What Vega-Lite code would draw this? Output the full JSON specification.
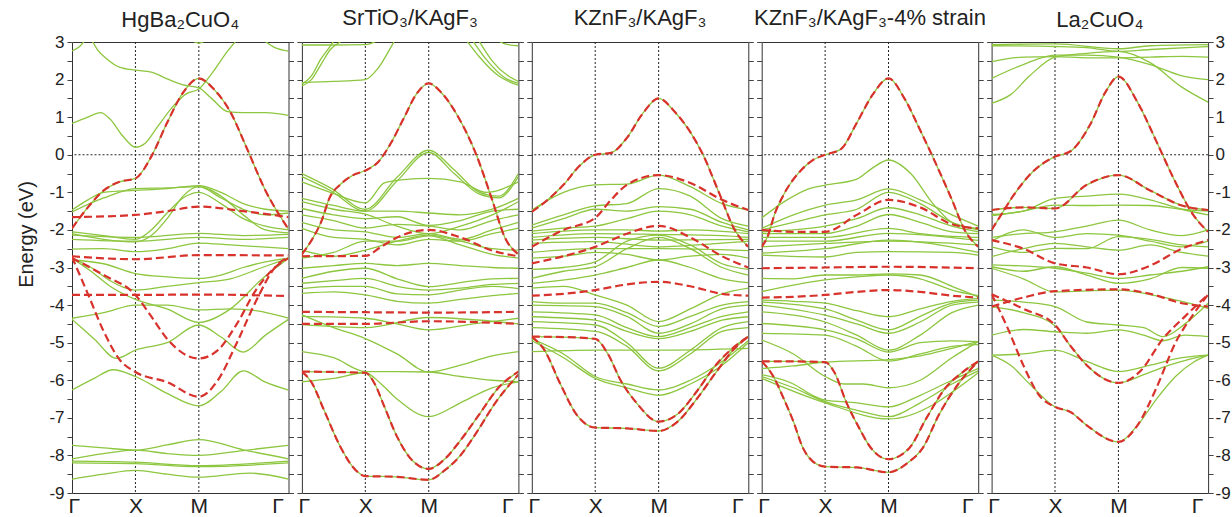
{
"$schema":"https://vega.github.io/schema/vega-lite/v6.json",
"padding":{"left":16,"top":6,"right":5,"bottom":0},
"bounds":"flush",
"spacing":12.9,
"config":{"font":"Liberation Sans","view":{"stroke":"#333","strokeWidth":1},
"axis":{"grid":false,"domain":false,"labelFont":"Liberation Sans","titleFont":"Liberation Sans","labelColor":"#222","titleColor":"#222","tickColor":"#444","titleFontWeight":"normal","labelOverlap":false},
"title":{"font":"Liberation Sans","fontSize":22,"fontWeight":"normal","color":"#222","offset":12}},
"datasets":{
"g":[
{"p":1,"b":1,"k":0,"e":-1.96},{"p":1,"b":1,"k":0.25,"e":-1.4},{"p":1,"b":1,"k":0.5,"e":-0.95},{"p":1,"b":1,"k":0.75,"e":-0.72},{"p":1,"b":1,"k":1,"e":-0.63},{"p":1,"b":1,"k":1.25,"e":-0.05},{"p":1,"b":1,"k":1.5,"e":0.85},{"p":1,"b":1,"k":1.75,"e":1.65},{"p":1,"b":1,"k":2,"e":2.03},{"p":1,"b":1,"k":2.25,"e":1.72},{"p":1,"b":1,"k":2.5,"e":1.13},{"p":1,"b":1,"k":2.75,"e":0.2},{"p":1,"b":1,"k":3.05,"e":-0.95},{"p":1,"b":1,"k":3.414,"e":-1.98},
{"p":1,"b":2,"k":0,"e":2.76},{"p":1,"b":2,"k":0.12,"e":2.88},{"p":1,"b":2,"k":0.25,"e":3.15},
{"p":1,"b":3,"k":0.28,"e":3.15},{"p":1,"b":3,"k":0.4,"e":2.8},{"p":1,"b":3,"k":0.55,"e":2.55},{"p":1,"b":3,"k":0.75,"e":2.33},{"p":1,"b":3,"k":1,"e":2.25},{"p":1,"b":3,"k":1.25,"e":2.2},{"p":1,"b":3,"k":1.5,"e":2.02},{"p":1,"b":3,"k":1.75,"e":1.86},{"p":1,"b":3,"k":2,"e":1.78},{"p":1,"b":3,"k":2.2,"e":1.5},{"p":1,"b":3,"k":2.45,"e":1.15},{"p":1,"b":3,"k":2.7,"e":1.12},{"p":1,"b":3,"k":3.05,"e":1.12},{"p":1,"b":3,"k":3.414,"e":1.05},
{"p":1,"b":4,"k":0,"e":0.83},{"p":1,"b":4,"k":0.25,"e":1.0},{"p":1,"b":4,"k":0.45,"e":1.12},{"p":1,"b":4,"k":0.6,"e":0.95},{"p":1,"b":4,"k":0.8,"e":0.5},{"p":1,"b":4,"k":1,"e":0.2},{"p":1,"b":4,"k":1.15,"e":0.3},{"p":1,"b":4,"k":1.35,"e":0.75},{"p":1,"b":4,"k":1.6,"e":1.3},{"p":1,"b":4,"k":1.8,"e":1.62},{"p":1,"b":4,"k":2,"e":1.75},{"p":1,"b":4,"k":2.2,"e":2.15},{"p":1,"b":4,"k":2.45,"e":2.75},{"p":1,"b":4,"k":2.65,"e":3.15},
{"p":1,"b":5,"k":2.95,"e":3.15},{"p":1,"b":5,"k":3.2,"e":2.85},{"p":1,"b":5,"k":3.414,"e":2.76},
{"p":1,"b":6,"k":1.8,"e":3.15},{"p":1,"b":6,"k":2,"e":2.97},{"p":1,"b":6,"k":2.2,"e":3.15},
{"p":1,"b":7,"k":0,"e":-1.47},{"p":1,"b":7,"k":0.25,"e":-1.2},{"p":1,"b":7,"k":0.5,"e":-1.0},{"p":1,"b":7,"k":1,"e":-0.95},{"p":1,"b":7,"k":1.5,"e":-0.9},{"p":1,"b":7,"k":2,"e":-0.82},{"p":1,"b":7,"k":2.35,"e":-1.0},{"p":1,"b":7,"k":2.7,"e":-1.3},{"p":1,"b":7,"k":3.05,"e":-1.45},{"p":1,"b":7,"k":3.414,"e":-1.5},
{"p":1,"b":8,"k":0,"e":-1.52},{"p":1,"b":8,"k":0.5,"e":-1.15},{"p":1,"b":8,"k":1,"e":-0.9},{"p":1,"b":8,"k":1.5,"e":-0.88},{"p":1,"b":8,"k":2,"e":-0.85},{"p":1,"b":8,"k":2.35,"e":-1.15},{"p":1,"b":8,"k":2.7,"e":-1.45},{"p":1,"b":8,"k":3.05,"e":-1.6},{"p":1,"b":8,"k":3.414,"e":-1.55},
{"p":1,"b":9,"k":0,"e":-2.05},{"p":1,"b":9,"k":0.5,"e":-2.15},{"p":1,"b":9,"k":1,"e":-2.25},{"p":1,"b":9,"k":1.25,"e":-2.0},{"p":1,"b":9,"k":1.5,"e":-1.55},{"p":1,"b":9,"k":1.75,"e":-1.15},{"p":1,"b":9,"k":2,"e":-1.0},{"p":1,"b":9,"k":2.35,"e":-1.3},{"p":1,"b":9,"k":2.7,"e":-1.7},{"p":1,"b":9,"k":3.05,"e":-1.9},{"p":1,"b":9,"k":3.414,"e":-2.0},
{"p":1,"b":10,"k":0,"e":-2.1},{"p":1,"b":10,"k":0.5,"e":-2.25},{"p":1,"b":10,"k":1,"e":-2.32},{"p":1,"b":10,"k":1.25,"e":-2.15},{"p":1,"b":10,"k":1.5,"e":-1.7},{"p":1,"b":10,"k":1.75,"e":-1.1},{"p":1,"b":10,"k":2,"e":-0.85},{"p":1,"b":10,"k":2.35,"e":-1.1},{"p":1,"b":10,"k":2.7,"e":-1.6},{"p":1,"b":10,"k":3.05,"e":-2.0},{"p":1,"b":10,"k":3.414,"e":-2.08},
{"p":1,"b":11,"k":0,"e":-2.14},{"p":1,"b":11,"k":1,"e":-2.2},{"p":1,"b":11,"k":2,"e":-2.09},{"p":1,"b":11,"k":2.7,"e":-2.15},{"p":1,"b":11,"k":3.414,"e":-2.12},
{"p":1,"b":12,"k":0,"e":-2.25},{"p":1,"b":12,"k":1,"e":-2.3},{"p":1,"b":12,"k":2,"e":-2.2},{"p":1,"b":12,"k":2.7,"e":-2.25},{"p":1,"b":12,"k":3.414,"e":-2.2},
{"p":1,"b":13,"k":0,"e":-2.51},{"p":1,"b":13,"k":0.5,"e":-2.5},{"p":1,"b":13,"k":1,"e":-2.58},{"p":1,"b":13,"k":1.5,"e":-2.5},{"p":1,"b":13,"k":2,"e":-2.35},{"p":1,"b":13,"k":2.5,"e":-2.4},{"p":1,"b":13,"k":3.414,"e":-2.5},
{"p":1,"b":14,"k":0,"e":-2.8},{"p":1,"b":14,"k":0.5,"e":-2.9},{"p":1,"b":14,"k":1,"e":-3.16},{"p":1,"b":14,"k":1.5,"e":-3.25},{"p":1,"b":14,"k":2,"e":-3.29},{"p":1,"b":14,"k":2.35,"e":-3.2},{"p":1,"b":14,"k":2.7,"e":-3.0},{"p":1,"b":14,"k":3.05,"e":-2.85},{"p":1,"b":14,"k":3.414,"e":-2.75},
{"p":1,"b":15,"k":0,"e":-2.75},{"p":1,"b":15,"k":0.3,"e":-3.0},{"p":1,"b":15,"k":0.6,"e":-3.35},{"p":1,"b":15,"k":1,"e":-3.6},{"p":1,"b":15,"k":1.5,"e":-3.5},{"p":1,"b":15,"k":2,"e":-3.4},{"p":1,"b":15,"k":2.5,"e":-3.3},{"p":1,"b":15,"k":3,"e":-3.0},{"p":1,"b":15,"k":3.414,"e":-2.75},
{"p":1,"b":16,"k":0,"e":-2.75},{"p":1,"b":16,"k":0.3,"e":-3.1},{"p":1,"b":16,"k":0.6,"e":-3.5},{"p":1,"b":16,"k":1,"e":-3.85},{"p":1,"b":16,"k":1.5,"e":-4.1},{"p":1,"b":16,"k":2,"e":-4.46},{"p":1,"b":16,"k":2.5,"e":-4.1},{"p":1,"b":16,"k":3,"e":-3.3},{"p":1,"b":16,"k":3.414,"e":-2.75},
{"p":1,"b":17,"k":0,"e":-4.35},{"p":1,"b":17,"k":0.5,"e":-4.2},{"p":1,"b":17,"k":1,"e":-4.0},{"p":1,"b":17,"k":1.5,"e":-4.0},{"p":1,"b":17,"k":2,"e":-4.13},{"p":1,"b":17,"k":2.5,"e":-4.1},{"p":1,"b":17,"k":2.9,"e":-4.15},{"p":1,"b":17,"k":3.414,"e":-4.35},
{"p":1,"b":18,"k":0,"e":-4.38},{"p":1,"b":18,"k":0.35,"e":-4.9},{"p":1,"b":18,"k":0.7,"e":-5.42},{"p":1,"b":18,"k":1,"e":-5.2},{"p":1,"b":18,"k":1.5,"e":-5.0},{"p":1,"b":18,"k":2,"e":-4.53},{"p":1,"b":18,"k":2.35,"e":-4.85},{"p":1,"b":18,"k":2.7,"e":-5.25},{"p":1,"b":18,"k":3.05,"e":-4.8},{"p":1,"b":18,"k":3.414,"e":-4.38},
{"p":1,"b":19,"k":0,"e":-6.26},{"p":1,"b":19,"k":0.35,"e":-5.95},{"p":1,"b":19,"k":0.65,"e":-5.72},{"p":1,"b":19,"k":1,"e":-5.9},{"p":1,"b":19,"k":1.5,"e":-6.35},{"p":1,"b":19,"k":2,"e":-6.68},{"p":1,"b":19,"k":2.35,"e":-6.3},{"p":1,"b":19,"k":2.7,"e":-5.75},{"p":1,"b":19,"k":3.05,"e":-6.05},{"p":1,"b":19,"k":3.414,"e":-6.26},
{"p":1,"b":20,"k":0,"e":-7.73},{"p":1,"b":20,"k":0.5,"e":-7.8},{"p":1,"b":20,"k":1,"e":-7.86},{"p":1,"b":20,"k":1.5,"e":-7.72},{"p":1,"b":20,"k":2,"e":-7.58},{"p":1,"b":20,"k":2.7,"e":-7.85},{"p":1,"b":20,"k":3.414,"e":-8.09},
{"p":1,"b":21,"k":0,"e":-8.09},{"p":1,"b":21,"k":0.5,"e":-7.95},{"p":1,"b":21,"k":1,"e":-7.86},{"p":1,"b":21,"k":1.5,"e":-7.95},{"p":1,"b":21,"k":2,"e":-8.0},{"p":1,"b":21,"k":2.7,"e":-7.87},{"p":1,"b":21,"k":3.414,"e":-7.73},
{"p":1,"b":22,"k":0,"e":-8.15},{"p":1,"b":22,"k":1,"e":-8.18},{"p":1,"b":22,"k":2,"e":-8.27},{"p":1,"b":22,"k":3.414,"e":-8.15},
{"p":1,"b":23,"k":0,"e":-8.2},{"p":1,"b":23,"k":1,"e":-8.22},{"p":1,"b":23,"k":2,"e":-8.3},{"p":1,"b":23,"k":3.414,"e":-8.2},
{"p":1,"b":24,"k":0,"e":-8.63},{"p":1,"b":24,"k":0.5,"e":-8.5},{"p":1,"b":24,"k":1,"e":-8.4},{"p":1,"b":24,"k":1.5,"e":-8.5},{"p":1,"b":24,"k":2,"e":-8.58},{"p":1,"b":24,"k":2.8,"e":-8.47},{"p":1,"b":24,"k":3.414,"e":-8.63},

{"p":2,"b":1,"k":0,"e":-2.65},{"p":2,"b":1,"k":0.18,"e":-2.2},{"p":2,"b":1,"k":0.31,"e":-1.76},{"p":2,"b":1,"k":0.44,"e":-1.13},{"p":2,"b":1,"k":0.6,"e":-0.8},{"p":2,"b":1,"k":0.8,"e":-0.55},{"p":2,"b":1,"k":1,"e":-0.42},{"p":2,"b":1,"k":1.2,"e":-0.2},{"p":2,"b":1,"k":1.4,"e":0.3},{"p":2,"b":1,"k":1.6,"e":0.95},{"p":2,"b":1,"k":1.8,"e":1.6},{"p":2,"b":1,"k":2,"e":1.9},{"p":2,"b":1,"k":2.2,"e":1.65},{"p":2,"b":1,"k":2.45,"e":1.05},{"p":2,"b":1,"k":2.75,"e":0.0},{"p":2,"b":1,"k":3.0,"e":-1.2},{"p":2,"b":1,"k":3.2,"e":-2.2},{"p":2,"b":1,"k":3.414,"e":-2.65},
{"p":2,"b":2,"k":0,"e":1.88},{"p":2,"b":2,"k":0.15,"e":2.1},{"p":2,"b":2,"k":0.3,"e":2.55},{"p":2,"b":2,"k":0.45,"e":2.9},{"p":2,"b":2,"k":0.55,"e":3.15},
{"p":2,"b":3,"k":0,"e":1.83},{"p":2,"b":3,"k":0.15,"e":2.0},{"p":2,"b":3,"k":0.3,"e":2.4},{"p":2,"b":3,"k":0.45,"e":2.8},{"p":2,"b":3,"k":0.6,"e":3.0},{"p":2,"b":3,"k":0.7,"e":3.15},
{"p":2,"b":4,"k":0,"e":1.92},{"p":2,"b":4,"k":0.5,"e":1.95},{"p":2,"b":4,"k":1,"e":2.0},{"p":2,"b":4,"k":1.2,"e":2.3},{"p":2,"b":4,"k":1.4,"e":2.85},{"p":2,"b":4,"k":1.5,"e":3.15},
{"p":2,"b":5,"k":0,"e":2.92},{"p":2,"b":5,"k":0.5,"e":2.92},{"p":2,"b":5,"k":1,"e":2.93},{"p":2,"b":5,"k":1.3,"e":3.15},
{"p":2,"b":6,"k":2.55,"e":3.15},{"p":2,"b":6,"k":2.8,"e":2.6},{"p":2,"b":6,"k":3.1,"e":2.1},{"p":2,"b":6,"k":3.414,"e":1.85},
{"p":2,"b":7,"k":2.65,"e":3.15},{"p":2,"b":7,"k":2.9,"e":2.55},{"p":2,"b":7,"k":3.2,"e":2.05},{"p":2,"b":7,"k":3.414,"e":1.9},
{"p":2,"b":8,"k":2.75,"e":3.15},{"p":2,"b":8,"k":3.0,"e":2.5},{"p":2,"b":8,"k":3.25,"e":2.1},{"p":2,"b":8,"k":3.414,"e":1.95},
{"p":2,"b":9,"k":3.0,"e":3.15},{"p":2,"b":9,"k":3.2,"e":2.95},{"p":2,"b":9,"k":3.414,"e":2.9},
{"p":2,"b":10,"k":0,"e":-0.5},{"p":2,"b":10,"k":0.45,"e":-0.88},{"p":2,"b":10,"k":1,"e":-1.45},{"p":2,"b":10,"k":1.5,"e":-0.6},{"p":2,"b":10,"k":2,"e":0.12},{"p":2,"b":10,"k":2.4,"e":-0.4},{"p":2,"b":10,"k":2.8,"e":-1.0},{"p":2,"b":10,"k":3.1,"e":-1.1},{"p":2,"b":10,"k":3.414,"e":-0.5},
{"p":2,"b":11,"k":0,"e":-0.58},{"p":2,"b":11,"k":0.45,"e":-0.95},{"p":2,"b":11,"k":1,"e":-1.5},{"p":2,"b":11,"k":1.5,"e":-0.7},{"p":2,"b":11,"k":2,"e":0.06},{"p":2,"b":11,"k":2.4,"e":-0.5},{"p":2,"b":11,"k":2.8,"e":-1.05},{"p":2,"b":11,"k":3.1,"e":-1.15},{"p":2,"b":11,"k":3.414,"e":-0.58},
{"p":2,"b":12,"k":0,"e":-0.72},{"p":2,"b":12,"k":0.45,"e":-1.0},{"p":2,"b":12,"k":1,"e":-1.28},{"p":2,"b":12,"k":1.3,"e":-0.75},{"p":2,"b":12,"k":1.6,"e":-0.66},{"p":2,"b":12,"k":2,"e":-0.63},{"p":2,"b":12,"k":2.5,"e":-0.72},{"p":2,"b":12,"k":2.9,"e":-1.0},{"p":2,"b":12,"k":3.414,"e":-0.72},
{"p":2,"b":13,"k":0,"e":-1.16},{"p":2,"b":13,"k":0.5,"e":-1.35},{"p":2,"b":13,"k":1,"e":-1.5},{"p":2,"b":13,"k":1.5,"e":-1.5},{"p":2,"b":13,"k":2,"e":-1.55},{"p":2,"b":13,"k":2.5,"e":-1.6},{"p":2,"b":13,"k":3,"e":-1.45},{"p":2,"b":13,"k":3.414,"e":-1.16},
{"p":2,"b":14,"k":0,"e":-1.25},{"p":2,"b":14,"k":0.5,"e":-1.45},{"p":2,"b":14,"k":1,"e":-1.58},{"p":2,"b":14,"k":1.5,"e":-1.9},{"p":2,"b":14,"k":2,"e":-2.1},{"p":2,"b":14,"k":2.5,"e":-1.9},{"p":2,"b":14,"k":3,"e":-1.6},{"p":2,"b":14,"k":3.414,"e":-1.25},
{"p":2,"b":15,"k":0,"e":-1.43},{"p":2,"b":15,"k":0.5,"e":-1.6},{"p":2,"b":15,"k":1,"e":-1.7},{"p":2,"b":15,"k":1.5,"e":-1.65},{"p":2,"b":15,"k":2,"e":-1.88},{"p":2,"b":15,"k":2.5,"e":-1.75},{"p":2,"b":15,"k":3,"e":-1.5},{"p":2,"b":15,"k":3.414,"e":-1.45},
{"p":2,"b":16,"k":0,"e":-1.6},{"p":2,"b":16,"k":0.5,"e":-1.75},{"p":2,"b":16,"k":1,"e":-1.95},{"p":2,"b":16,"k":1.5,"e":-1.85},{"p":2,"b":16,"k":2,"e":-1.9},{"p":2,"b":16,"k":2.5,"e":-2.0},{"p":2,"b":16,"k":3,"e":-1.75},{"p":2,"b":16,"k":3.414,"e":-1.6},
{"p":2,"b":17,"k":0,"e":-1.8},{"p":2,"b":17,"k":0.5,"e":-2.0},{"p":2,"b":17,"k":1,"e":-2.05},{"p":2,"b":17,"k":1.5,"e":-2.2},{"p":2,"b":17,"k":2,"e":-2.1},{"p":2,"b":17,"k":2.5,"e":-2.25},{"p":2,"b":17,"k":3,"e":-2.0},{"p":2,"b":17,"k":3.414,"e":-1.8},
{"p":2,"b":18,"k":0,"e":-1.96},{"p":2,"b":18,"k":0.5,"e":-2.2},{"p":2,"b":18,"k":1,"e":-2.25},{"p":2,"b":18,"k":1.5,"e":-2.4},{"p":2,"b":18,"k":2,"e":-2.25},{"p":2,"b":18,"k":2.5,"e":-2.3},{"p":2,"b":18,"k":3,"e":-2.1},{"p":2,"b":18,"k":3.414,"e":-1.95},
{"p":2,"b":19,"k":0,"e":-2.54},{"p":2,"b":19,"k":0.5,"e":-2.7},{"p":2,"b":19,"k":1,"e":-2.54},{"p":2,"b":19,"k":1.5,"e":-2.3},{"p":2,"b":19,"k":2,"e":-2.14},{"p":2,"b":19,"k":2.5,"e":-2.3},{"p":2,"b":19,"k":3,"e":-2.5},{"p":2,"b":19,"k":3.414,"e":-2.54},
{"p":2,"b":20,"k":0,"e":-2.75},{"p":2,"b":20,"k":0.5,"e":-2.6},{"p":2,"b":20,"k":1,"e":-2.3},{"p":2,"b":20,"k":1.5,"e":-2.3},{"p":2,"b":20,"k":2,"e":-2.16},{"p":2,"b":20,"k":2.5,"e":-2.4},{"p":2,"b":20,"k":3,"e":-2.65},{"p":2,"b":20,"k":3.414,"e":-2.75},
{"p":2,"b":21,"k":0,"e":-3.02},{"p":2,"b":21,"k":0.5,"e":-2.95},{"p":2,"b":21,"k":1,"e":-2.89},{"p":2,"b":21,"k":1.5,"e":-2.95},{"p":2,"b":21,"k":2,"e":-2.89},{"p":2,"b":21,"k":2.5,"e":-2.95},{"p":2,"b":21,"k":3,"e":-3.0},{"p":2,"b":21,"k":3.414,"e":-3.02},
{"p":2,"b":22,"k":0,"e":-3.29},{"p":2,"b":22,"k":0.5,"e":-3.1},{"p":2,"b":22,"k":1,"e":-3.02},{"p":2,"b":22,"k":1.5,"e":-3.3},{"p":2,"b":22,"k":2,"e":-3.51},{"p":2,"b":22,"k":2.5,"e":-3.4},{"p":2,"b":22,"k":3,"e":-3.3},{"p":2,"b":22,"k":3.414,"e":-3.29},
{"p":2,"b":23,"k":0,"e":-3.42},{"p":2,"b":23,"k":0.5,"e":-3.35},{"p":2,"b":23,"k":1,"e":-3.29},{"p":2,"b":23,"k":1.5,"e":-3.5},{"p":2,"b":23,"k":2,"e":-3.6},{"p":2,"b":23,"k":2.5,"e":-3.55},{"p":2,"b":23,"k":3,"e":-3.45},{"p":2,"b":23,"k":3.414,"e":-3.42},
{"p":2,"b":24,"k":0,"e":-3.56},{"p":2,"b":24,"k":0.5,"e":-3.5},{"p":2,"b":24,"k":1,"e":-3.5},{"p":2,"b":24,"k":1.5,"e":-3.7},{"p":2,"b":24,"k":2,"e":-3.73},{"p":2,"b":24,"k":2.5,"e":-3.6},{"p":2,"b":24,"k":3,"e":-3.5},{"p":2,"b":24,"k":3.414,"e":-3.56},
{"p":2,"b":25,"k":0,"e":-3.69},{"p":2,"b":25,"k":0.5,"e":-3.65},{"p":2,"b":25,"k":1,"e":-3.73},{"p":2,"b":25,"k":1.5,"e":-3.9},{"p":2,"b":25,"k":2,"e":-3.95},{"p":2,"b":25,"k":2.5,"e":-3.85},{"p":2,"b":25,"k":3,"e":-3.75},{"p":2,"b":25,"k":3.414,"e":-3.69},
{"p":2,"b":26,"k":0,"e":-4.3},{"p":2,"b":26,"k":1,"e":-4.35},{"p":2,"b":26,"k":1.5,"e":-4.5},{"p":2,"b":26,"k":2,"e":-4.66},{"p":2,"b":26,"k":2.7,"e":-4.5},{"p":2,"b":26,"k":3.414,"e":-4.35},
{"p":2,"b":27,"k":0,"e":-4.52},{"p":2,"b":27,"k":1,"e":-4.6},{"p":2,"b":27,"k":2,"e":-4.33},{"p":2,"b":27,"k":3.414,"e":-4.5},
{"p":2,"b":28,"k":0,"e":-4.26},{"p":2,"b":28,"k":0.5,"e":-4.6},{"p":2,"b":28,"k":1,"e":-4.89},{"p":2,"b":28,"k":1.5,"e":-5.3},{"p":2,"b":28,"k":2,"e":-5.78},{"p":2,"b":28,"k":2.5,"e":-5.6},{"p":2,"b":28,"k":3,"e":-5.35},{"p":2,"b":28,"k":3.414,"e":-5.24},
{"p":2,"b":29,"k":0,"e":-5.24},{"p":2,"b":29,"k":0.5,"e":-5.4},{"p":2,"b":29,"k":1,"e":-5.77},{"p":2,"b":29,"k":1.5,"e":-5.77},{"p":2,"b":29,"k":2,"e":-5.78},{"p":2,"b":29,"k":2.5,"e":-5.9},{"p":2,"b":29,"k":3,"e":-6.0},{"p":2,"b":29,"k":3.414,"e":-6.04},
{"p":2,"b":30,"k":0,"e":-6.04},{"p":2,"b":30,"k":0.5,"e":-5.95},{"p":2,"b":30,"k":1,"e":-5.8},{"p":2,"b":30,"k":1.25,"e":-6.1},{"p":2,"b":30,"k":1.5,"e":-6.5},{"p":2,"b":30,"k":2,"e":-6.97},{"p":2,"b":30,"k":2.5,"e":-6.6},{"p":2,"b":30,"k":3,"e":-6.2},{"p":2,"b":30,"k":3.414,"e":-6.04},
{"p":2,"b":31,"k":0,"e":-5.77},{"p":2,"b":31,"k":1,"e":-5.8},{"p":2,"b":31,"k":1.15,"e":-6.1},{"p":2,"b":31,"k":1.3,"e":-6.7},{"p":2,"b":31,"k":1.5,"e":-7.5},{"p":2,"b":31,"k":1.75,"e":-8.15},{"p":2,"b":31,"k":2,"e":-8.36},{"p":2,"b":31,"k":2.25,"e":-8.1},{"p":2,"b":31,"k":2.5,"e":-7.6},{"p":2,"b":31,"k":2.8,"e":-6.9},{"p":2,"b":31,"k":3.1,"e":-6.2},{"p":2,"b":31,"k":3.414,"e":-5.77},
{"p":2,"b":32,"k":0,"e":-5.77},{"p":2,"b":32,"k":0.15,"e":-6.05},{"p":2,"b":32,"k":0.35,"e":-6.8},{"p":2,"b":32,"k":0.6,"e":-7.75},{"p":2,"b":32,"k":0.8,"e":-8.3},{"p":2,"b":32,"k":1,"e":-8.55},{"p":2,"b":32,"k":1.5,"e":-8.57},{"p":2,"b":32,"k":2,"e":-8.65},{"p":2,"b":32,"k":2.25,"e":-8.4},{"p":2,"b":32,"k":2.5,"e":-8.0},{"p":2,"b":32,"k":2.75,"e":-7.4},{"p":2,"b":32,"k":3.05,"e":-6.6},{"p":2,"b":32,"k":3.414,"e":-5.85},

{"p":3,"b":1,"k":0,"e":-1.52},{"p":3,"b":1,"k":0.25,"e":-1.2},{"p":3,"b":1,"k":0.5,"e":-0.8},{"p":3,"b":1,"k":0.75,"e":-0.3},{"p":3,"b":1,"k":1,"e":0.0},{"p":3,"b":1,"k":1.25,"e":0.05},{"p":3,"b":1,"k":1.5,"e":0.45},{"p":3,"b":1,"k":1.75,"e":1.1},{"p":3,"b":1,"k":2,"e":1.5},{"p":3,"b":1,"k":2.25,"e":1.15},{"p":3,"b":1,"k":2.5,"e":0.6},{"p":3,"b":1,"k":2.7,"e":0.0},{"p":3,"b":1,"k":2.95,"e":-1.0},{"p":3,"b":1,"k":3.2,"e":-2.0},{"p":3,"b":1,"k":3.414,"e":-2.45},
{"p":3,"b":2,"k":0,"e":-1.47},{"p":3,"b":2,"k":0.5,"e":-1.0},{"p":3,"b":2,"k":1,"e":-0.8},{"p":3,"b":2,"k":1.5,"e":-0.78},{"p":3,"b":2,"k":2,"e":-0.54},{"p":3,"b":2,"k":2.5,"e":-0.85},{"p":3,"b":2,"k":3,"e":-1.3},{"p":3,"b":2,"k":3.414,"e":-1.47},
{"p":3,"b":3,"k":0,"e":-1.87},{"p":3,"b":3,"k":0.5,"e":-1.6},{"p":3,"b":3,"k":1,"e":-1.36},{"p":3,"b":3,"k":1.5,"e":-1.3},{"p":3,"b":3,"k":2,"e":-0.9},{"p":3,"b":3,"k":2.5,"e":-1.1},{"p":3,"b":3,"k":3,"e":-1.7},{"p":3,"b":3,"k":3.414,"e":-1.9},
{"p":3,"b":4,"k":0,"e":-1.95},{"p":3,"b":4,"k":0.5,"e":-1.7},{"p":3,"b":4,"k":1,"e":-1.45},{"p":3,"b":4,"k":1.5,"e":-1.5},{"p":3,"b":4,"k":2,"e":-1.38},{"p":3,"b":4,"k":2.5,"e":-1.45},{"p":3,"b":4,"k":3,"e":-1.8},{"p":3,"b":4,"k":3.414,"e":-2.0},
{"p":3,"b":5,"k":0,"e":-2.03},{"p":3,"b":5,"k":0.5,"e":-1.95},{"p":3,"b":5,"k":1,"e":-1.9},{"p":3,"b":5,"k":1.5,"e":-1.7},{"p":3,"b":5,"k":2,"e":-1.5},{"p":3,"b":5,"k":2.5,"e":-1.6},{"p":3,"b":5,"k":3,"e":-1.9},{"p":3,"b":5,"k":3.414,"e":-2.05},
{"p":3,"b":6,"k":0,"e":-2.1},{"p":3,"b":6,"k":1,"e":-2.0},{"p":3,"b":6,"k":1.5,"e":-2.0},{"p":3,"b":6,"k":2,"e":-2.03},{"p":3,"b":6,"k":2.5,"e":-2.0},{"p":3,"b":6,"k":3.414,"e":-2.1},
{"p":3,"b":7,"k":0,"e":-2.2},{"p":3,"b":7,"k":1,"e":-2.1},{"p":3,"b":7,"k":2,"e":-2.12},{"p":3,"b":7,"k":3,"e":-2.15},{"p":3,"b":7,"k":3.414,"e":-2.2},
{"p":3,"b":8,"k":0,"e":-2.27},{"p":3,"b":8,"k":1,"e":-2.2},{"p":3,"b":8,"k":2,"e":-2.27},{"p":3,"b":8,"k":3.414,"e":-2.25},
{"p":3,"b":9,"k":0,"e":-2.35},{"p":3,"b":9,"k":1,"e":-2.31},{"p":3,"b":9,"k":2,"e":-2.45},{"p":3,"b":9,"k":3,"e":-2.35},{"p":3,"b":9,"k":3.414,"e":-2.3},
{"p":3,"b":10,"k":0,"e":-2.6},{"p":3,"b":10,"k":1,"e":-2.5},{"p":3,"b":10,"k":2,"e":-2.5},{"p":3,"b":10,"k":3.414,"e":-2.55},
{"p":3,"b":11,"k":0,"e":-2.75},{"p":3,"b":11,"k":0.5,"e":-2.7},{"p":3,"b":11,"k":1,"e":-2.6},{"p":3,"b":11,"k":1.5,"e":-2.65},{"p":3,"b":11,"k":2,"e":-2.8},{"p":3,"b":11,"k":2.5,"e":-2.7},{"p":3,"b":11,"k":3,"e":-2.65},{"p":3,"b":11,"k":3.414,"e":-2.75},
{"p":3,"b":12,"k":0,"e":-3.05},{"p":3,"b":12,"k":0.5,"e":-3.0},{"p":3,"b":12,"k":1,"e":-2.85},{"p":3,"b":12,"k":1.5,"e":-2.3},{"p":3,"b":12,"k":2,"e":-2.14},{"p":3,"b":12,"k":2.5,"e":-2.4},{"p":3,"b":12,"k":3,"e":-2.9},{"p":3,"b":12,"k":3.414,"e":-3.05},
{"p":3,"b":13,"k":0,"e":-3.29},{"p":3,"b":13,"k":0.5,"e":-3.1},{"p":3,"b":13,"k":1,"e":-2.98},{"p":3,"b":13,"k":1.5,"e":-2.5},{"p":3,"b":13,"k":2,"e":-2.2},{"p":3,"b":13,"k":2.5,"e":-2.5},{"p":3,"b":13,"k":3,"e":-3.0},{"p":3,"b":13,"k":3.414,"e":-3.2},
{"p":3,"b":14,"k":0,"e":-3.42},{"p":3,"b":14,"k":1,"e":-3.2},{"p":3,"b":14,"k":1.5,"e":-3.0},{"p":3,"b":14,"k":2,"e":-2.8},{"p":3,"b":14,"k":2.5,"e":-3.0},{"p":3,"b":14,"k":3,"e":-3.3},{"p":3,"b":14,"k":3.414,"e":-3.4},
{"p":3,"b":15,"k":0,"e":-3.55},{"p":3,"b":15,"k":0.5,"e":-3.5},{"p":3,"b":15,"k":1,"e":-3.73},{"p":3,"b":15,"k":1.5,"e":-4.0},{"p":3,"b":15,"k":2,"e":-4.44},{"p":3,"b":15,"k":2.5,"e":-4.1},{"p":3,"b":15,"k":3,"e":-3.7},{"p":3,"b":15,"k":3.414,"e":-3.55},
{"p":3,"b":16,"k":0,"e":-3.91},{"p":3,"b":16,"k":0.5,"e":-3.95},{"p":3,"b":16,"k":1,"e":-3.95},{"p":3,"b":16,"k":1.5,"e":-4.2},{"p":3,"b":16,"k":2,"e":-4.57},{"p":3,"b":16,"k":2.5,"e":-4.3},{"p":3,"b":16,"k":3,"e":-4.0},{"p":3,"b":16,"k":3.414,"e":-3.91},
{"p":3,"b":17,"k":0,"e":-4.0},{"p":3,"b":17,"k":1,"e":-4.04},{"p":3,"b":17,"k":1.5,"e":-4.3},{"p":3,"b":17,"k":2,"e":-4.75},{"p":3,"b":17,"k":2.5,"e":-4.5},{"p":3,"b":17,"k":3,"e":-4.1},{"p":3,"b":17,"k":3.414,"e":-4.0},
{"p":3,"b":18,"k":0,"e":-4.18},{"p":3,"b":18,"k":1,"e":-4.26},{"p":3,"b":18,"k":1.5,"e":-4.6},{"p":3,"b":18,"k":2,"e":-4.84},{"p":3,"b":18,"k":2.5,"e":-4.6},{"p":3,"b":18,"k":3,"e":-4.3},{"p":3,"b":18,"k":3.414,"e":-4.18},
{"p":3,"b":19,"k":0,"e":-4.31},{"p":3,"b":19,"k":1,"e":-4.4},{"p":3,"b":19,"k":1.5,"e":-4.7},{"p":3,"b":19,"k":2,"e":-4.89},{"p":3,"b":19,"k":2.5,"e":-4.7},{"p":3,"b":19,"k":3,"e":-4.4},{"p":3,"b":19,"k":3.414,"e":-4.31},
{"p":3,"b":20,"k":0,"e":-4.44},{"p":3,"b":20,"k":1,"e":-4.53},{"p":3,"b":20,"k":1.5,"e":-5.0},{"p":3,"b":20,"k":2,"e":-5.68},{"p":3,"b":20,"k":2.5,"e":-5.2},{"p":3,"b":20,"k":3,"e":-4.6},{"p":3,"b":20,"k":3.414,"e":-4.44},
{"p":3,"b":21,"k":0,"e":-4.6},{"p":3,"b":21,"k":1,"e":-4.7},{"p":3,"b":21,"k":1.5,"e":-5.1},{"p":3,"b":21,"k":2,"e":-5.75},{"p":3,"b":21,"k":2.5,"e":-5.3},{"p":3,"b":21,"k":3,"e":-4.7},{"p":3,"b":21,"k":3.414,"e":-4.6},
{"p":3,"b":22,"k":0,"e":-5.24},{"p":3,"b":22,"k":1,"e":-5.2},{"p":3,"b":22,"k":2,"e":-5.2},{"p":3,"b":22,"k":3.414,"e":-5.15},
{"p":3,"b":23,"k":0,"e":-4.9},{"p":3,"b":23,"k":0.5,"e":-5.3},{"p":3,"b":23,"k":1,"e":-5.9},{"p":3,"b":23,"k":1.5,"e":-6.1},{"p":3,"b":23,"k":2,"e":-6.26},{"p":3,"b":23,"k":2.5,"e":-6.0},{"p":3,"b":23,"k":3,"e":-5.5},{"p":3,"b":23,"k":3.414,"e":-4.95},
{"p":3,"b":24,"k":0,"e":-4.95},{"p":3,"b":24,"k":0.5,"e":-5.4},{"p":3,"b":24,"k":1,"e":-5.95},{"p":3,"b":24,"k":1.5,"e":-6.2},{"p":3,"b":24,"k":2,"e":-6.4},{"p":3,"b":24,"k":2.5,"e":-6.1},{"p":3,"b":24,"k":3,"e":-5.6},{"p":3,"b":24,"k":3.414,"e":-5.0},
{"p":3,"b":25,"k":0,"e":-4.84},{"p":3,"b":25,"k":0.5,"e":-4.85},{"p":3,"b":25,"k":1,"e":-4.9},{"p":3,"b":25,"k":1.2,"e":-5.3},{"p":3,"b":25,"k":1.4,"e":-6.0},{"p":3,"b":25,"k":1.65,"e":-6.6},{"p":3,"b":25,"k":2,"e":-7.1},{"p":3,"b":25,"k":2.3,"e":-6.9},{"p":3,"b":25,"k":2.6,"e":-6.3},{"p":3,"b":25,"k":2.9,"e":-5.6},{"p":3,"b":25,"k":3.2,"e":-5.1},{"p":3,"b":25,"k":3.414,"e":-4.84},
{"p":3,"b":26,"k":0,"e":-4.84},{"p":3,"b":26,"k":0.2,"e":-5.2},{"p":3,"b":26,"k":0.45,"e":-6.1},{"p":3,"b":26,"k":0.7,"e":-6.9},{"p":3,"b":26,"k":1,"e":-7.26},{"p":3,"b":26,"k":1.5,"e":-7.28},{"p":3,"b":26,"k":2,"e":-7.35},{"p":3,"b":26,"k":2.3,"e":-7.1},{"p":3,"b":26,"k":2.6,"e":-6.5},{"p":3,"b":26,"k":2.9,"e":-5.8},{"p":3,"b":26,"k":3.2,"e":-5.15},{"p":3,"b":26,"k":3.414,"e":-4.84},

{"p":4,"b":1,"k":0,"e":-2.45},{"p":4,"b":1,"k":0.1,"e":-2.15},{"p":4,"b":1,"k":0.2,"e":-1.6},{"p":4,"b":1,"k":0.35,"e":-1.05},{"p":4,"b":1,"k":0.6,"e":-0.45},{"p":4,"b":1,"k":0.8,"e":-0.15},{"p":4,"b":1,"k":1,"e":0.0},{"p":4,"b":1,"k":1.25,"e":0.15},{"p":4,"b":1,"k":1.5,"e":0.85},{"p":4,"b":1,"k":1.75,"e":1.6},{"p":4,"b":1,"k":2,"e":2.03},{"p":4,"b":1,"k":2.25,"e":1.5},{"p":4,"b":1,"k":2.5,"e":0.65},{"p":4,"b":1,"k":2.75,"e":-0.25},{"p":4,"b":1,"k":3.0,"e":-1.2},{"p":4,"b":1,"k":3.2,"e":-2.0},{"p":4,"b":1,"k":3.414,"e":-2.45},
{"p":4,"b":2,"k":0,"e":-1.68},{"p":4,"b":2,"k":0.4,"e":-1.2},{"p":4,"b":2,"k":0.75,"e":-0.9},{"p":4,"b":2,"k":1,"e":-0.81},{"p":4,"b":2,"k":1.5,"e":-0.65},{"p":4,"b":2,"k":1.75,"e":-0.35},{"p":4,"b":2,"k":2,"e":-0.14},{"p":4,"b":2,"k":2.35,"e":-0.5},{"p":4,"b":2,"k":2.7,"e":-1.3},{"p":4,"b":2,"k":3.05,"e":-1.85},{"p":4,"b":2,"k":3.414,"e":-1.96},
{"p":4,"b":3,"k":0,"e":-1.96},{"p":4,"b":3,"k":0.5,"e":-1.6},{"p":4,"b":3,"k":1,"e":-1.34},{"p":4,"b":3,"k":1.5,"e":-1.2},{"p":4,"b":3,"k":2,"e":-0.91},{"p":4,"b":3,"k":2.5,"e":-1.2},{"p":4,"b":3,"k":3,"e":-1.6},{"p":4,"b":3,"k":3.414,"e":-1.9},
{"p":4,"b":4,"k":0,"e":-2.0},{"p":4,"b":4,"k":0.5,"e":-1.8},{"p":4,"b":4,"k":1,"e":-1.6},{"p":4,"b":4,"k":1.5,"e":-1.45},{"p":4,"b":4,"k":2,"e":-1.0},{"p":4,"b":4,"k":2.5,"e":-1.3},{"p":4,"b":4,"k":3,"e":-1.8},{"p":4,"b":4,"k":3.414,"e":-2.0},
{"p":4,"b":5,"k":0,"e":-2.05},{"p":4,"b":5,"k":1,"e":-1.9},{"p":4,"b":5,"k":1.5,"e":-1.7},{"p":4,"b":5,"k":2,"e":-1.41},{"p":4,"b":5,"k":2.5,"e":-1.6},{"p":4,"b":5,"k":3,"e":-1.9},{"p":4,"b":5,"k":3.414,"e":-2.05},
{"p":4,"b":6,"k":0,"e":-2.1},{"p":4,"b":6,"k":1,"e":-2.1},{"p":4,"b":6,"k":1.5,"e":-1.9},{"p":4,"b":6,"k":2,"e":-1.59},{"p":4,"b":6,"k":2.5,"e":-1.8},{"p":4,"b":6,"k":3,"e":-2.05},{"p":4,"b":6,"k":3.414,"e":-2.1},
{"p":4,"b":7,"k":0,"e":-2.2},{"p":4,"b":7,"k":1,"e":-2.2},{"p":4,"b":7,"k":2,"e":-1.96},{"p":4,"b":7,"k":2.5,"e":-2.1},{"p":4,"b":7,"k":3.414,"e":-2.2},
{"p":4,"b":8,"k":0,"e":-2.3},{"p":4,"b":8,"k":1,"e":-2.3},{"p":4,"b":8,"k":2,"e":-2.09},{"p":4,"b":8,"k":3.414,"e":-2.28},
{"p":4,"b":9,"k":0,"e":-2.45},{"p":4,"b":9,"k":1,"e":-2.36},{"p":4,"b":9,"k":2,"e":-2.3},{"p":4,"b":9,"k":3.414,"e":-2.4},
{"p":4,"b":10,"k":0,"e":-2.62},{"p":4,"b":10,"k":1,"e":-2.5},{"p":4,"b":10,"k":2,"e":-2.27},{"p":4,"b":10,"k":3.414,"e":-2.6},
{"p":4,"b":11,"k":0,"e":-2.67},{"p":4,"b":11,"k":1,"e":-2.72},{"p":4,"b":11,"k":1.5,"e":-2.6},{"p":4,"b":11,"k":2,"e":-2.58},{"p":4,"b":11,"k":3,"e":-2.6},{"p":4,"b":11,"k":3.414,"e":-2.67},
{"p":4,"b":12,"k":0,"e":-3.29},{"p":4,"b":12,"k":0.5,"e":-3.3},{"p":4,"b":12,"k":1,"e":-3.2},{"p":4,"b":12,"k":1.5,"e":-3.2},{"p":4,"b":12,"k":2,"e":-3.17},{"p":4,"b":12,"k":2.5,"e":-3.2},{"p":4,"b":12,"k":3,"e":-3.5},{"p":4,"b":12,"k":3.414,"e":-3.78},
{"p":4,"b":13,"k":0,"e":-3.64},{"p":4,"b":13,"k":1,"e":-3.33},{"p":4,"b":13,"k":1.5,"e":-3.25},{"p":4,"b":13,"k":2,"e":-3.2},{"p":4,"b":13,"k":2.5,"e":-3.3},{"p":4,"b":13,"k":3,"e":-3.6},{"p":4,"b":13,"k":3.414,"e":-3.75},
{"p":4,"b":14,"k":0,"e":-3.87},{"p":4,"b":14,"k":0.5,"e":-3.9},{"p":4,"b":14,"k":1,"e":-3.95},{"p":4,"b":14,"k":1.5,"e":-4.15},{"p":4,"b":14,"k":2,"e":-4.31},{"p":4,"b":14,"k":2.5,"e":-4.1},{"p":4,"b":14,"k":3,"e":-3.9},{"p":4,"b":14,"k":3.414,"e":-3.82},
{"p":4,"b":15,"k":0,"e":-3.92},{"p":4,"b":15,"k":1,"e":-4.1},{"p":4,"b":15,"k":1.5,"e":-4.4},{"p":4,"b":15,"k":2,"e":-4.66},{"p":4,"b":15,"k":2.5,"e":-4.3},{"p":4,"b":15,"k":3,"e":-3.95},{"p":4,"b":15,"k":3.414,"e":-3.87},
{"p":4,"b":16,"k":0,"e":-4.0},{"p":4,"b":16,"k":1,"e":-4.27},{"p":4,"b":16,"k":1.5,"e":-4.5},{"p":4,"b":16,"k":2,"e":-4.75},{"p":4,"b":16,"k":2.5,"e":-4.45},{"p":4,"b":16,"k":3,"e":-4.0},{"p":4,"b":16,"k":3.414,"e":-3.92},
{"p":4,"b":17,"k":0,"e":-4.18},{"p":4,"b":17,"k":1,"e":-4.45},{"p":4,"b":17,"k":1.5,"e":-4.8},{"p":4,"b":17,"k":2,"e":-5.2},{"p":4,"b":17,"k":2.5,"e":-4.8},{"p":4,"b":17,"k":3,"e":-4.2},{"p":4,"b":17,"k":3.414,"e":-4.0},
{"p":4,"b":18,"k":0,"e":-4.49},{"p":4,"b":18,"k":1,"e":-4.66},{"p":4,"b":18,"k":1.5,"e":-4.9},{"p":4,"b":18,"k":2,"e":-5.25},{"p":4,"b":18,"k":2.5,"e":-5.0},{"p":4,"b":18,"k":3,"e":-4.95},{"p":4,"b":18,"k":3.414,"e":-4.97},
{"p":4,"b":19,"k":0,"e":-4.75},{"p":4,"b":19,"k":1,"e":-4.8},{"p":4,"b":19,"k":1.5,"e":-5.1},{"p":4,"b":19,"k":2,"e":-5.49},{"p":4,"b":19,"k":2.5,"e":-5.3},{"p":4,"b":19,"k":3,"e":-5.1},{"p":4,"b":19,"k":3.414,"e":-5.05},
{"p":4,"b":20,"k":0,"e":-5.69},{"p":4,"b":20,"k":0.5,"e":-5.62},{"p":4,"b":20,"k":1,"e":-5.52},{"p":4,"b":20,"k":2,"e":-5.45},{"p":4,"b":20,"k":2.5,"e":-5.35},{"p":4,"b":20,"k":3,"e":-5.15},{"p":4,"b":20,"k":3.414,"e":-4.97},
{"p":4,"b":21,"k":0,"e":-5.85},{"p":4,"b":21,"k":0.5,"e":-6.1},{"p":4,"b":21,"k":0.8,"e":-6.4},{"p":4,"b":21,"k":1,"e":-6.53},{"p":4,"b":21,"k":1.5,"e":-6.6},{"p":4,"b":21,"k":2,"e":-6.71},{"p":4,"b":21,"k":2.5,"e":-6.4},{"p":4,"b":21,"k":3,"e":-6.0},{"p":4,"b":21,"k":3.414,"e":-5.69},
{"p":4,"b":22,"k":0,"e":-5.9},{"p":4,"b":22,"k":0.5,"e":-6.2},{"p":4,"b":22,"k":1,"e":-6.57},{"p":4,"b":22,"k":1.5,"e":-6.8},{"p":4,"b":22,"k":2,"e":-6.97},{"p":4,"b":22,"k":2.5,"e":-6.6},{"p":4,"b":22,"k":3,"e":-6.1},{"p":4,"b":22,"k":3.414,"e":-5.75},
{"p":4,"b":23,"k":0,"e":-4.93},{"p":4,"b":23,"k":0.5,"e":-5.3},{"p":4,"b":23,"k":1,"e":-5.9},{"p":4,"b":23,"k":1.3,"e":-6.1},{"p":4,"b":23,"k":1.6,"e":-6.1},{"p":4,"b":23,"k":2,"e":-6.2},{"p":4,"b":23,"k":2.5,"e":-6.0},{"p":4,"b":23,"k":3,"e":-5.4},{"p":4,"b":23,"k":3.414,"e":-4.97},
{"p":4,"b":24,"k":0,"e":-5.95},{"p":4,"b":24,"k":1,"e":-6.6},{"p":4,"b":24,"k":2,"e":-7.03},{"p":4,"b":24,"k":3.414,"e":-5.8},
{"p":4,"b":25,"k":0,"e":-5.5},{"p":4,"b":25,"k":0.5,"e":-5.5},{"p":4,"b":25,"k":1,"e":-5.52},{"p":4,"b":25,"k":1.15,"e":-5.8},{"p":4,"b":25,"k":1.33,"e":-6.57},{"p":4,"b":25,"k":1.54,"e":-7.28},{"p":4,"b":25,"k":1.7,"e":-7.75},{"p":4,"b":25,"k":2,"e":-8.1},{"p":4,"b":25,"k":2.33,"e":-7.8},{"p":4,"b":25,"k":2.6,"e":-7.0},{"p":4,"b":25,"k":2.9,"e":-6.2},{"p":4,"b":25,"k":3.18,"e":-5.77},{"p":4,"b":25,"k":3.414,"e":-5.5},
{"p":4,"b":26,"k":0,"e":-5.5},{"p":4,"b":26,"k":0.17,"e":-5.86},{"p":4,"b":26,"k":0.35,"e":-6.5},{"p":4,"b":26,"k":0.5,"e":-7.1},{"p":4,"b":26,"k":0.65,"e":-7.8},{"p":4,"b":26,"k":0.8,"e":-8.15},{"p":4,"b":26,"k":1,"e":-8.3},{"p":4,"b":26,"k":1.5,"e":-8.32},{"p":4,"b":26,"k":2,"e":-8.45},{"p":4,"b":26,"k":2.3,"e":-8.2},{"p":4,"b":26,"k":2.54,"e":-7.8},{"p":4,"b":26,"k":2.8,"e":-6.9},{"p":4,"b":26,"k":3.1,"e":-6.1},{"p":4,"b":26,"k":3.414,"e":-5.5},

{"p":5,"b":1,"k":0,"e":-2.0},{"p":5,"b":1,"k":0.15,"e":-1.6},{"p":5,"b":1,"k":0.35,"e":-1.07},{"p":5,"b":1,"k":0.65,"e":-0.45},{"p":5,"b":1,"k":1,"e":-0.05},{"p":5,"b":1,"k":1.25,"e":0.1},{"p":5,"b":1,"k":1.55,"e":0.79},{"p":5,"b":1,"k":1.8,"e":1.68},{"p":5,"b":1,"k":2,"e":2.08},{"p":5,"b":1,"k":2.3,"e":1.4},{"p":5,"b":1,"k":2.6,"e":0.35},{"p":5,"b":1,"k":2.87,"e":-0.63},{"p":5,"b":1,"k":3.18,"e":-1.6},{"p":5,"b":1,"k":3.414,"e":-2.05},
{"p":5,"b":2,"k":0,"e":-1.47},{"p":5,"b":2,"k":0.5,"e":-1.4},{"p":5,"b":2,"k":1,"e":-1.43},{"p":5,"b":2,"k":1.5,"e":-0.8},{"p":5,"b":2,"k":2,"e":-0.54},{"p":5,"b":2,"k":2.5,"e":-0.95},{"p":5,"b":2,"k":3,"e":-1.35},{"p":5,"b":2,"k":3.414,"e":-1.47},
{"p":5,"b":3,"k":0,"e":2.93},{"p":5,"b":3,"k":1,"e":2.95},{"p":5,"b":3,"k":2,"e":2.82},{"p":5,"b":3,"k":2.5,"e":2.9},{"p":5,"b":3,"k":3.414,"e":2.93},
{"p":5,"b":4,"k":0,"e":2.9},{"p":5,"b":4,"k":1,"e":2.88},{"p":5,"b":4,"k":1.5,"e":2.85},{"p":5,"b":4,"k":2,"e":2.75},{"p":5,"b":4,"k":2.5,"e":2.8},{"p":5,"b":4,"k":3.414,"e":2.88},
{"p":5,"b":5,"k":0,"e":2.48},{"p":5,"b":5,"k":0.5,"e":2.6},{"p":5,"b":5,"k":1,"e":2.61},{"p":5,"b":5,"k":1.5,"e":2.58},{"p":5,"b":5,"k":2,"e":2.58},{"p":5,"b":5,"k":2.5,"e":2.6},{"p":5,"b":5,"k":3,"e":2.62},{"p":5,"b":5,"k":3.414,"e":2.6},
{"p":5,"b":6,"k":0,"e":2.03},{"p":5,"b":6,"k":0.5,"e":2.4},{"p":5,"b":6,"k":1,"e":2.65},{"p":5,"b":6,"k":1.5,"e":2.65},{"p":5,"b":6,"k":2,"e":2.6},{"p":5,"b":6,"k":2.5,"e":2.4},{"p":5,"b":6,"k":3,"e":2.1},{"p":5,"b":6,"k":3.414,"e":2.0},
{"p":5,"b":7,"k":0,"e":1.37},{"p":5,"b":7,"k":0.3,"e":1.6},{"p":5,"b":7,"k":0.6,"e":2.1},{"p":5,"b":7,"k":1,"e":2.6},{"p":5,"b":7,"k":1.5,"e":2.7},{"p":5,"b":7,"k":2,"e":2.75},{"p":5,"b":7,"k":2.5,"e":2.45},{"p":5,"b":7,"k":3,"e":1.8},{"p":5,"b":7,"k":3.414,"e":1.4},
{"p":5,"b":8,"k":0,"e":-1.59},{"p":5,"b":8,"k":0.5,"e":-1.5},{"p":5,"b":8,"k":1,"e":-1.16},{"p":5,"b":8,"k":1.5,"e":-1.1},{"p":5,"b":8,"k":2,"e":-1.05},{"p":5,"b":8,"k":2.5,"e":-1.2},{"p":5,"b":8,"k":3,"e":-1.45},{"p":5,"b":8,"k":3.414,"e":-1.6},
{"p":5,"b":9,"k":0,"e":-1.62},{"p":5,"b":9,"k":0.5,"e":-1.5},{"p":5,"b":9,"k":1,"e":-1.34},{"p":5,"b":9,"k":1.5,"e":-1.35},{"p":5,"b":9,"k":2,"e":-1.34},{"p":5,"b":9,"k":2.5,"e":-1.35},{"p":5,"b":9,"k":3,"e":-1.45},{"p":5,"b":9,"k":3.414,"e":-1.5},
{"p":5,"b":10,"k":0,"e":-2.2},{"p":5,"b":10,"k":0.5,"e":-2.1},{"p":5,"b":10,"k":1,"e":-2.05},{"p":5,"b":10,"k":1.5,"e":-1.9},{"p":5,"b":10,"k":2,"e":-1.74},{"p":5,"b":10,"k":2.5,"e":-2.0},{"p":5,"b":10,"k":3,"e":-2.15},{"p":5,"b":10,"k":3.414,"e":-2.0},
{"p":5,"b":11,"k":0,"e":-2.3},{"p":5,"b":11,"k":0.5,"e":-2.0},{"p":5,"b":11,"k":1,"e":-2.2},{"p":5,"b":11,"k":1.5,"e":-2.1},{"p":5,"b":11,"k":2,"e":-2.14},{"p":5,"b":11,"k":2.5,"e":-2.3},{"p":5,"b":11,"k":3,"e":-2.45},{"p":5,"b":11,"k":3.414,"e":-2.3},
{"p":5,"b":12,"k":0,"e":-2.45},{"p":5,"b":12,"k":0.5,"e":-2.6},{"p":5,"b":12,"k":1,"e":-2.49},{"p":5,"b":12,"k":1.5,"e":-2.5},{"p":5,"b":12,"k":2,"e":-2.18},{"p":5,"b":12,"k":2.5,"e":-2.25},{"p":5,"b":12,"k":3,"e":-2.4},{"p":5,"b":12,"k":3.414,"e":-2.45},
{"p":5,"b":13,"k":0,"e":-2.71},{"p":5,"b":13,"k":0.5,"e":-2.5},{"p":5,"b":13,"k":1,"e":-2.36},{"p":5,"b":13,"k":1.5,"e":-2.45},{"p":5,"b":13,"k":2,"e":-2.54},{"p":5,"b":13,"k":2.5,"e":-2.4},{"p":5,"b":13,"k":3,"e":-2.6},{"p":5,"b":13,"k":3.414,"e":-2.7},
{"p":5,"b":14,"k":0,"e":-2.93},{"p":5,"b":14,"k":1,"e":-3.02},{"p":5,"b":14,"k":1.5,"e":-3.15},{"p":5,"b":14,"k":2,"e":-3.29},{"p":5,"b":14,"k":2.5,"e":-3.2},{"p":5,"b":14,"k":3,"e":-3.1},{"p":5,"b":14,"k":3.414,"e":-2.98},
{"p":5,"b":15,"k":0,"e":-2.98},{"p":5,"b":15,"k":0.5,"e":-3.1},{"p":5,"b":15,"k":1,"e":-2.98},{"p":5,"b":15,"k":1.5,"e":-3.2},{"p":5,"b":15,"k":2,"e":-3.42},{"p":5,"b":15,"k":2.5,"e":-3.3},{"p":5,"b":15,"k":3,"e":-3.0},{"p":5,"b":15,"k":3.414,"e":-3.02},
{"p":5,"b":16,"k":0,"e":-3.87},{"p":5,"b":16,"k":0.5,"e":-3.92},{"p":5,"b":16,"k":1,"e":-4.04},{"p":5,"b":16,"k":1.5,"e":-4.45},{"p":5,"b":16,"k":2,"e":-4.53},{"p":5,"b":16,"k":2.4,"e":-4.6},{"p":5,"b":16,"k":2.7,"e":-4.84},{"p":5,"b":16,"k":3.05,"e":-4.5},{"p":5,"b":16,"k":3.414,"e":-3.95},
{"p":5,"b":17,"k":0,"e":-4.8},{"p":5,"b":17,"k":0.5,"e":-4.65},{"p":5,"b":17,"k":1,"e":-4.71},{"p":5,"b":17,"k":1.5,"e":-4.75},{"p":5,"b":17,"k":2,"e":-4.66},{"p":5,"b":17,"k":2.4,"e":-4.8},{"p":5,"b":17,"k":2.7,"e":-4.95},{"p":5,"b":17,"k":3.05,"e":-4.8},{"p":5,"b":17,"k":3.414,"e":-4.84},
{"p":5,"b":18,"k":0,"e":-5.33},{"p":5,"b":18,"k":0.5,"e":-5.3},{"p":5,"b":18,"k":1,"e":-5.2},{"p":5,"b":18,"k":1.5,"e":-5.5},{"p":5,"b":18,"k":2,"e":-5.77},{"p":5,"b":18,"k":2.5,"e":-5.6},{"p":5,"b":18,"k":3,"e":-5.4},{"p":5,"b":18,"k":3.414,"e":-5.33},
{"p":5,"b":19,"k":0,"e":-5.33},{"p":5,"b":19,"k":0.3,"e":-5.6},{"p":5,"b":19,"k":0.6,"e":-6.1},{"p":5,"b":19,"k":1,"e":-6.71},{"p":5,"b":19,"k":1.25,"e":-6.85},{"p":5,"b":19,"k":1.5,"e":-7.2},{"p":5,"b":19,"k":2,"e":-7.64},{"p":5,"b":19,"k":2.3,"e":-7.2},{"p":5,"b":19,"k":2.6,"e":-6.5},{"p":5,"b":19,"k":2.9,"e":-5.9},{"p":5,"b":19,"k":3.2,"e":-5.5},{"p":5,"b":19,"k":3.414,"e":-5.33},
{"p":5,"b":20,"k":0,"e":-4.05},{"p":5,"b":20,"k":0.5,"e":-4.2},{"p":5,"b":20,"k":1,"e":-4.55},{"p":5,"b":20,"k":1.25,"e":-5.1},{"p":5,"b":20,"k":1.5,"e":-5.6},{"p":5,"b":20,"k":2,"e":-6.07},{"p":5,"b":20,"k":2.4,"e":-5.85},{"p":5,"b":20,"k":2.8,"e":-5.6},{"p":5,"b":20,"k":3.1,"e":-5.45},{"p":5,"b":20,"k":3.414,"e":-5.33},
{"p":5,"b":21,"k":0,"e":-3.02},{"p":5,"b":21,"k":0.5,"e":-3.3},{"p":5,"b":21,"k":1,"e":-3.65},{"p":5,"b":21,"k":1.5,"e":-3.62},{"p":5,"b":21,"k":2,"e":-3.6},{"p":5,"b":21,"k":2.5,"e":-3.72},{"p":5,"b":21,"k":3,"e":-3.9},{"p":5,"b":21,"k":3.414,"e":-4.09}
],
"r":[
{"p":1,"b":1,"k":0,"e":-1.96},{"p":1,"b":1,"k":0.25,"e":-1.4},{"p":1,"b":1,"k":0.5,"e":-0.95},{"p":1,"b":1,"k":0.75,"e":-0.72},{"p":1,"b":1,"k":1,"e":-0.63},{"p":1,"b":1,"k":1.25,"e":-0.05},{"p":1,"b":1,"k":1.5,"e":0.85},{"p":1,"b":1,"k":1.75,"e":1.65},{"p":1,"b":1,"k":2,"e":2.03},{"p":1,"b":1,"k":2.25,"e":1.72},{"p":1,"b":1,"k":2.5,"e":1.13},{"p":1,"b":1,"k":2.75,"e":0.2},{"p":1,"b":1,"k":3.05,"e":-0.95},{"p":1,"b":1,"k":3.414,"e":-1.98},
{"p":1,"b":2,"k":0,"e":-1.66},{"p":1,"b":2,"k":1,"e":-1.6},{"p":1,"b":2,"k":1.5,"e":-1.5},{"p":1,"b":2,"k":2,"e":-1.38},{"p":1,"b":2,"k":2.7,"e":-1.5},{"p":1,"b":2,"k":3.414,"e":-1.66},
{"p":1,"b":3,"k":0,"e":-2.7},{"p":1,"b":3,"k":1,"e":-2.78},{"p":1,"b":3,"k":2,"e":-2.67},{"p":1,"b":3,"k":3.414,"e":-2.68},
{"p":1,"b":4,"k":0,"e":-3.73},{"p":1,"b":4,"k":1,"e":-3.73},{"p":1,"b":4,"k":2,"e":-3.72},{"p":1,"b":4,"k":3.414,"e":-3.76},
{"p":1,"b":5,"k":0,"e":-2.72},{"p":1,"b":5,"k":0.25,"e":-3.7},{"p":1,"b":5,"k":0.5,"e":-4.7},{"p":1,"b":5,"k":0.75,"e":-5.45},{"p":1,"b":5,"k":1,"e":-5.78},{"p":1,"b":5,"k":1.5,"e":-6.05},{"p":1,"b":5,"k":2,"e":-6.44},{"p":1,"b":5,"k":2.3,"e":-6.0},{"p":1,"b":5,"k":2.6,"e":-5.0},{"p":1,"b":5,"k":2.9,"e":-3.9},{"p":1,"b":5,"k":3.2,"e":-3.0},{"p":1,"b":5,"k":3.414,"e":-2.72},
{"p":1,"b":6,"k":0,"e":-2.75},{"p":1,"b":6,"k":0.5,"e":-3.2},{"p":1,"b":6,"k":1,"e":-3.73},{"p":1,"b":6,"k":1.25,"e":-4.3},{"p":1,"b":6,"k":1.5,"e":-4.9},{"p":1,"b":6,"k":2,"e":-5.42},{"p":1,"b":6,"k":2.3,"e":-5.2},{"p":1,"b":6,"k":2.6,"e":-4.5},{"p":1,"b":6,"k":2.9,"e":-3.6},{"p":1,"b":6,"k":3.2,"e":-3.0},{"p":1,"b":6,"k":3.414,"e":-2.75},

{"p":2,"b":1,"k":0,"e":-2.65},{"p":2,"b":1,"k":0.18,"e":-2.2},{"p":2,"b":1,"k":0.31,"e":-1.76},{"p":2,"b":1,"k":0.44,"e":-1.13},{"p":2,"b":1,"k":0.6,"e":-0.8},{"p":2,"b":1,"k":0.8,"e":-0.55},{"p":2,"b":1,"k":1,"e":-0.42},{"p":2,"b":1,"k":1.2,"e":-0.2},{"p":2,"b":1,"k":1.4,"e":0.3},{"p":2,"b":1,"k":1.6,"e":0.95},{"p":2,"b":1,"k":1.8,"e":1.6},{"p":2,"b":1,"k":2,"e":1.9},{"p":2,"b":1,"k":2.2,"e":1.65},{"p":2,"b":1,"k":2.45,"e":1.05},{"p":2,"b":1,"k":2.75,"e":0.0},{"p":2,"b":1,"k":3.0,"e":-1.2},{"p":2,"b":1,"k":3.2,"e":-2.2},{"p":2,"b":1,"k":3.414,"e":-2.65},
{"p":2,"b":2,"k":0,"e":-2.7},{"p":2,"b":2,"k":1,"e":-2.69},{"p":2,"b":2,"k":1.25,"e":-2.45},{"p":2,"b":2,"k":1.5,"e":-2.2},{"p":2,"b":2,"k":2,"e":-2.0},{"p":2,"b":2,"k":2.5,"e":-2.2},{"p":2,"b":2,"k":3,"e":-2.55},{"p":2,"b":2,"k":3.414,"e":-2.7},
{"p":2,"b":3,"k":0,"e":-4.18},{"p":2,"b":3,"k":1,"e":-4.19},{"p":2,"b":3,"k":2,"e":-4.2},{"p":2,"b":3,"k":3.414,"e":-4.18},
{"p":2,"b":4,"k":0,"e":-4.5},{"p":2,"b":4,"k":1,"e":-4.5},{"p":2,"b":4,"k":2,"e":-4.43},{"p":2,"b":4,"k":3.414,"e":-4.5},
{"p":2,"b":5,"k":0,"e":-5.77},{"p":2,"b":5,"k":1,"e":-5.8},{"p":2,"b":5,"k":1.15,"e":-6.1},{"p":2,"b":5,"k":1.3,"e":-6.7},{"p":2,"b":5,"k":1.5,"e":-7.5},{"p":2,"b":5,"k":1.75,"e":-8.15},{"p":2,"b":5,"k":2,"e":-8.36},{"p":2,"b":5,"k":2.25,"e":-8.1},{"p":2,"b":5,"k":2.5,"e":-7.6},{"p":2,"b":5,"k":2.8,"e":-6.9},{"p":2,"b":5,"k":3.1,"e":-6.2},{"p":2,"b":5,"k":3.414,"e":-5.77},
{"p":2,"b":6,"k":0,"e":-5.77},{"p":2,"b":6,"k":0.15,"e":-6.05},{"p":2,"b":6,"k":0.35,"e":-6.8},{"p":2,"b":6,"k":0.6,"e":-7.75},{"p":2,"b":6,"k":0.8,"e":-8.3},{"p":2,"b":6,"k":1,"e":-8.55},{"p":2,"b":6,"k":1.5,"e":-8.57},{"p":2,"b":6,"k":2,"e":-8.65},{"p":2,"b":6,"k":2.25,"e":-8.4},{"p":2,"b":6,"k":2.5,"e":-8.0},{"p":2,"b":6,"k":2.75,"e":-7.4},{"p":2,"b":6,"k":3.05,"e":-6.6},{"p":2,"b":6,"k":3.414,"e":-5.85},

{"p":3,"b":1,"k":0,"e":-1.52},{"p":3,"b":1,"k":0.25,"e":-1.2},{"p":3,"b":1,"k":0.5,"e":-0.8},{"p":3,"b":1,"k":0.75,"e":-0.3},{"p":3,"b":1,"k":1,"e":0.0},{"p":3,"b":1,"k":1.25,"e":0.05},{"p":3,"b":1,"k":1.5,"e":0.45},{"p":3,"b":1,"k":1.75,"e":1.1},{"p":3,"b":1,"k":2,"e":1.5},{"p":3,"b":1,"k":2.25,"e":1.15},{"p":3,"b":1,"k":2.5,"e":0.6},{"p":3,"b":1,"k":2.7,"e":0.0},{"p":3,"b":1,"k":2.95,"e":-1.0},{"p":3,"b":1,"k":3.2,"e":-2.0},{"p":3,"b":1,"k":3.414,"e":-2.45},
{"p":3,"b":2,"k":0,"e":-2.45},{"p":3,"b":2,"k":0.5,"e":-2.0},{"p":3,"b":2,"k":1,"e":-1.68},{"p":3,"b":2,"k":1.25,"e":-1.2},{"p":3,"b":2,"k":1.5,"e":-0.8},{"p":3,"b":2,"k":2,"e":-0.54},{"p":3,"b":2,"k":2.5,"e":-0.75},{"p":3,"b":2,"k":3,"e":-1.2},{"p":3,"b":2,"k":3.414,"e":-1.47},
{"p":3,"b":3,"k":0,"e":-2.89},{"p":3,"b":3,"k":0.5,"e":-2.7},{"p":3,"b":3,"k":1,"e":-2.45},{"p":3,"b":3,"k":1.5,"e":-2.1},{"p":3,"b":3,"k":2,"e":-1.89},{"p":3,"b":3,"k":2.5,"e":-2.2},{"p":3,"b":3,"k":3,"e":-2.7},{"p":3,"b":3,"k":3.414,"e":-3.0},
{"p":3,"b":4,"k":0,"e":-3.75},{"p":3,"b":4,"k":0.5,"e":-3.7},{"p":3,"b":4,"k":1,"e":-3.6},{"p":3,"b":4,"k":1.5,"e":-3.45},{"p":3,"b":4,"k":2,"e":-3.38},{"p":3,"b":4,"k":2.5,"e":-3.5},{"p":3,"b":4,"k":3,"e":-3.7},{"p":3,"b":4,"k":3.414,"e":-3.75},
{"p":3,"b":5,"k":0,"e":-4.84},{"p":3,"b":5,"k":0.5,"e":-4.85},{"p":3,"b":5,"k":1,"e":-4.9},{"p":3,"b":5,"k":1.2,"e":-5.3},{"p":3,"b":5,"k":1.4,"e":-6.0},{"p":3,"b":5,"k":1.65,"e":-6.6},{"p":3,"b":5,"k":2,"e":-7.1},{"p":3,"b":5,"k":2.3,"e":-6.9},{"p":3,"b":5,"k":2.6,"e":-6.3},{"p":3,"b":5,"k":2.9,"e":-5.6},{"p":3,"b":5,"k":3.2,"e":-5.1},{"p":3,"b":5,"k":3.414,"e":-4.84},
{"p":3,"b":6,"k":0,"e":-4.84},{"p":3,"b":6,"k":0.2,"e":-5.2},{"p":3,"b":6,"k":0.45,"e":-6.1},{"p":3,"b":6,"k":0.7,"e":-6.9},{"p":3,"b":6,"k":1,"e":-7.26},{"p":3,"b":6,"k":1.5,"e":-7.28},{"p":3,"b":6,"k":2,"e":-7.35},{"p":3,"b":6,"k":2.3,"e":-7.1},{"p":3,"b":6,"k":2.6,"e":-6.5},{"p":3,"b":6,"k":2.9,"e":-5.8},{"p":3,"b":6,"k":3.2,"e":-5.15},{"p":3,"b":6,"k":3.414,"e":-4.84},

{"p":4,"b":1,"k":0,"e":-2.45},{"p":4,"b":1,"k":0.1,"e":-2.15},{"p":4,"b":1,"k":0.2,"e":-1.6},{"p":4,"b":1,"k":0.35,"e":-1.05},{"p":4,"b":1,"k":0.6,"e":-0.45},{"p":4,"b":1,"k":0.8,"e":-0.15},{"p":4,"b":1,"k":1,"e":0.0},{"p":4,"b":1,"k":1.25,"e":0.15},{"p":4,"b":1,"k":1.5,"e":0.85},{"p":4,"b":1,"k":1.75,"e":1.6},{"p":4,"b":1,"k":2,"e":2.03},{"p":4,"b":1,"k":2.25,"e":1.5},{"p":4,"b":1,"k":2.5,"e":0.65},{"p":4,"b":1,"k":2.75,"e":-0.25},{"p":4,"b":1,"k":3.0,"e":-1.2},{"p":4,"b":1,"k":3.2,"e":-2.0},{"p":4,"b":1,"k":3.414,"e":-2.45},
{"p":4,"b":2,"k":0,"e":-2.0},{"p":4,"b":2,"k":0.5,"e":-2.05},{"p":4,"b":2,"k":1,"e":-2.05},{"p":4,"b":2,"k":1.5,"e":-1.6},{"p":4,"b":2,"k":2,"e":-1.2},{"p":4,"b":2,"k":2.5,"e":-1.4},{"p":4,"b":2,"k":3,"e":-1.85},{"p":4,"b":2,"k":3.414,"e":-1.96},
{"p":4,"b":3,"k":0,"e":-3.02},{"p":4,"b":3,"k":1,"e":-3.0},{"p":4,"b":3,"k":2,"e":-2.98},{"p":4,"b":3,"k":3.414,"e":-3.02},
{"p":4,"b":4,"k":0,"e":-3.8},{"p":4,"b":4,"k":0.5,"e":-3.78},{"p":4,"b":4,"k":1,"e":-3.73},{"p":4,"b":4,"k":1.5,"e":-3.65},{"p":4,"b":4,"k":2,"e":-3.6},{"p":4,"b":4,"k":2.5,"e":-3.65},{"p":4,"b":4,"k":3,"e":-3.75},{"p":4,"b":4,"k":3.414,"e":-3.8},
{"p":4,"b":5,"k":0,"e":-5.5},{"p":4,"b":5,"k":0.5,"e":-5.5},{"p":4,"b":5,"k":1,"e":-5.52},{"p":4,"b":5,"k":1.15,"e":-5.8},{"p":4,"b":5,"k":1.33,"e":-6.57},{"p":4,"b":5,"k":1.54,"e":-7.28},{"p":4,"b":5,"k":1.7,"e":-7.75},{"p":4,"b":5,"k":2,"e":-8.1},{"p":4,"b":5,"k":2.33,"e":-7.8},{"p":4,"b":5,"k":2.6,"e":-7.0},{"p":4,"b":5,"k":2.9,"e":-6.2},{"p":4,"b":5,"k":3.18,"e":-5.77},{"p":4,"b":5,"k":3.414,"e":-5.5},
{"p":4,"b":6,"k":0,"e":-5.5},{"p":4,"b":6,"k":0.17,"e":-5.86},{"p":4,"b":6,"k":0.35,"e":-6.5},{"p":4,"b":6,"k":0.5,"e":-7.1},{"p":4,"b":6,"k":0.65,"e":-7.8},{"p":4,"b":6,"k":0.8,"e":-8.15},{"p":4,"b":6,"k":1,"e":-8.3},{"p":4,"b":6,"k":1.5,"e":-8.32},{"p":4,"b":6,"k":2,"e":-8.45},{"p":4,"b":6,"k":2.3,"e":-8.2},{"p":4,"b":6,"k":2.54,"e":-7.8},{"p":4,"b":6,"k":2.8,"e":-6.9},{"p":4,"b":6,"k":3.1,"e":-6.1},{"p":4,"b":6,"k":3.414,"e":-5.5},

{"p":5,"b":1,"k":0,"e":-2.0},{"p":5,"b":1,"k":0.15,"e":-1.6},{"p":5,"b":1,"k":0.35,"e":-1.07},{"p":5,"b":1,"k":0.65,"e":-0.45},{"p":5,"b":1,"k":1,"e":-0.05},{"p":5,"b":1,"k":1.25,"e":0.1},{"p":5,"b":1,"k":1.55,"e":0.79},{"p":5,"b":1,"k":1.8,"e":1.68},{"p":5,"b":1,"k":2,"e":2.08},{"p":5,"b":1,"k":2.3,"e":1.4},{"p":5,"b":1,"k":2.6,"e":0.35},{"p":5,"b":1,"k":2.87,"e":-0.63},{"p":5,"b":1,"k":3.18,"e":-1.6},{"p":5,"b":1,"k":3.414,"e":-2.05},
{"p":5,"b":2,"k":0,"e":-1.47},{"p":5,"b":2,"k":0.5,"e":-1.4},{"p":5,"b":2,"k":1,"e":-1.43},{"p":5,"b":2,"k":1.5,"e":-0.8},{"p":5,"b":2,"k":2,"e":-0.54},{"p":5,"b":2,"k":2.5,"e":-0.95},{"p":5,"b":2,"k":3,"e":-1.35},{"p":5,"b":2,"k":3.414,"e":-1.47},
{"p":5,"b":3,"k":0,"e":-2.27},{"p":5,"b":3,"k":0.5,"e":-2.5},{"p":5,"b":3,"k":1,"e":-2.89},{"p":5,"b":3,"k":1.5,"e":-3.0},{"p":5,"b":3,"k":2,"e":-3.18},{"p":5,"b":3,"k":2.5,"e":-2.95},{"p":5,"b":3,"k":3,"e":-2.5},{"p":5,"b":3,"k":3.414,"e":-2.27},
{"p":5,"b":4,"k":0,"e":-4.04},{"p":5,"b":4,"k":0.5,"e":-3.8},{"p":5,"b":4,"k":1,"e":-3.63},{"p":5,"b":4,"k":2,"e":-3.58},{"p":5,"b":4,"k":2.5,"e":-3.7},{"p":5,"b":4,"k":3,"e":-3.95},{"p":5,"b":4,"k":3.414,"e":-4.04},
{"p":5,"b":5,"k":0,"e":-3.71},{"p":5,"b":5,"k":0.5,"e":-4.1},{"p":5,"b":5,"k":1,"e":-4.53},{"p":5,"b":5,"k":1.25,"e":-5.1},{"p":5,"b":5,"k":1.5,"e":-5.6},{"p":5,"b":5,"k":2,"e":-6.07},{"p":5,"b":5,"k":2.35,"e":-5.75},{"p":5,"b":5,"k":2.7,"e":-4.9},{"p":5,"b":5,"k":3.05,"e":-4.3},{"p":5,"b":5,"k":3.414,"e":-3.72},
{"p":5,"b":6,"k":0,"e":-3.71},{"p":5,"b":6,"k":0.25,"e":-4.6},{"p":5,"b":6,"k":0.5,"e":-5.6},{"p":5,"b":6,"k":0.75,"e":-6.4},{"p":5,"b":6,"k":1,"e":-6.71},{"p":5,"b":6,"k":1.25,"e":-6.85},{"p":5,"b":6,"k":1.5,"e":-7.2},{"p":5,"b":6,"k":2,"e":-7.64},{"p":5,"b":6,"k":2.3,"e":-7.2},{"p":5,"b":6,"k":2.6,"e":-6.2},{"p":5,"b":6,"k":2.9,"e":-5.0},{"p":5,"b":6,"k":3.2,"e":-4.2},{"p":5,"b":6,"k":3.414,"e":-3.72}
]},
"hconcat":[
{"width":216.5,"height":451,"title":{"text":"HgBa₂CuO₄","offset":1.5},"resolve":{"axis":{"y":"independent"}},
"layer":[
{"data":{"values":[{"k":1},{"k":2}]},"mark":{"type":"rule","strokeDash":[2,2],"color":"#222","strokeWidth":1},"encoding":{"x":{"field":"k","type":"quantitative","scale":{"domain":[0,3.414],"nice":false,"zero":false},"axis":{"values":[0.03,1,2,3.24],"labelExpr":"datum.value < 0.5 ? 'Γ' : datum.value < 1.5 ? 'X' : datum.value < 2.5 ? 'M' : 'Γ'","ticks":false,"labelFontSize":21,"labelPadding":2,"labelFlush":false,"title":null}}}},
{"data":{"values":[{"e":0}]},"mark":{"type":"rule","strokeDash":[2,2],"color":"#222","strokeWidth":1},"encoding":{"y":{"field":"e","type":"quantitative","scale":{"domain":[-9,3],"nice":false,"zero":false},"axis":{"orient":"left","values":[-9,-8.5,-8,-7.5,-7,-6.5,-6,-5.5,-5,-4.5,-4,-3.5,-3,-2.5,-2,-1.5,-1,-0.5,0,0.5,1,1.5,2,2.5,3],"labelExpr":"datum.value % 1 === 0 ? (datum.value < 0 ? '-' + abs(datum.value) : '' + datum.value) : ''","tickSize":5,"labelFontSize":17,"labelPadding":3,"title":"Energy (eV)","titleFontSize":20,"titlePadding":12,"titleY":192}}}},
{"data":{"name":"g"},"transform":[{"filter":"datum.p == 1"}],"mark":{"type":"line","color":"#8DC63F","strokeWidth":1.3,"interpolate":"monotone","clip":true},"encoding":{"x":{"field":"k","type":"quantitative"},"y":{"field":"e","type":"quantitative","axis":{"orient":"right","values":[-9,-8.5,-8,-7.5,-7,-6.5,-6,-5.5,-5,-4.5,-4,-3.5,-3,-2.5,-2,-1.5,-1,-0.5,0,0.5,1,1.5,2,2.5,3],"labels":false,"tickSize":5,"title":null}},"detail":{"field":"b"}}},
{"data":{"name":"r"},"transform":[{"filter":"datum.p == 1"}],"mark":{"type":"line","color":"#D8322D","strokeWidth":2.2,"strokeDash":[8,4],"interpolate":"monotone","clip":true},"encoding":{"x":{"field":"k","type":"quantitative"},"y":{"field":"e","type":"quantitative","axis":null},"detail":{"field":"b"}}}
]},
{"width":216.5,"height":451,"title":{"text":"SrTiO₃/KAgF₃"},"resolve":{"axis":{"y":"independent"}},
"layer":[
{"data":{"values":[{"k":1},{"k":2}]},"mark":{"type":"rule","strokeDash":[2,2],"color":"#222","strokeWidth":1},"encoding":{"x":{"field":"k","type":"quantitative","scale":{"domain":[0,3.414],"nice":false,"zero":false},"axis":{"values":[0.03,1,2,3.24],"labelExpr":"datum.value < 0.5 ? 'Γ' : datum.value < 1.5 ? 'X' : datum.value < 2.5 ? 'M' : 'Γ'","ticks":false,"labelFontSize":21,"labelPadding":2,"labelFlush":false,"title":null}}}},
{"data":{"values":[{"e":0}]},"mark":{"type":"rule","strokeDash":[2,2],"color":"#222","strokeWidth":1},"encoding":{"y":{"field":"e","type":"quantitative","scale":{"domain":[-9,3],"nice":false,"zero":false},"axis":{"orient":"left","values":[-9,-8.5,-8,-7.5,-7,-6.5,-6,-5.5,-5,-4.5,-4,-3.5,-3,-2.5,-2,-1.5,-1,-0.5,0,0.5,1,1.5,2,2.5,3],"labels":false,"tickSize":5,"title":null}}}},
{"data":{"name":"g"},"transform":[{"filter":"datum.p == 2"}],"mark":{"type":"line","color":"#8DC63F","strokeWidth":1.3,"interpolate":"monotone","clip":true},"encoding":{"x":{"field":"k","type":"quantitative"},"y":{"field":"e","type":"quantitative","axis":{"orient":"right","values":[-9,-8.5,-8,-7.5,-7,-6.5,-6,-5.5,-5,-4.5,-4,-3.5,-3,-2.5,-2,-1.5,-1,-0.5,0,0.5,1,1.5,2,2.5,3],"labels":false,"tickSize":5,"title":null}},"detail":{"field":"b"}}},
{"data":{"name":"r"},"transform":[{"filter":"datum.p == 2"}],"mark":{"type":"line","color":"#D8322D","strokeWidth":2.2,"strokeDash":[8,4],"interpolate":"monotone","clip":true},"encoding":{"x":{"field":"k","type":"quantitative"},"y":{"field":"e","type":"quantitative","axis":null},"detail":{"field":"b"}}}
]},
{"width":216.5,"height":451,"title":{"text":"KZnF₃/KAgF₃"},"resolve":{"axis":{"y":"independent"}},
"layer":[
{"data":{"values":[{"k":1},{"k":2}]},"mark":{"type":"rule","strokeDash":[2,2],"color":"#222","strokeWidth":1},"encoding":{"x":{"field":"k","type":"quantitative","scale":{"domain":[0,3.414],"nice":false,"zero":false},"axis":{"values":[0.03,1,2,3.24],"labelExpr":"datum.value < 0.5 ? 'Γ' : datum.value < 1.5 ? 'X' : datum.value < 2.5 ? 'M' : 'Γ'","ticks":false,"labelFontSize":21,"labelPadding":2,"labelFlush":false,"title":null}}}},
{"data":{"values":[{"e":0}]},"mark":{"type":"rule","strokeDash":[2,2],"color":"#222","strokeWidth":1},"encoding":{"y":{"field":"e","type":"quantitative","scale":{"domain":[-9,3],"nice":false,"zero":false},"axis":{"orient":"left","values":[-9,-8.5,-8,-7.5,-7,-6.5,-6,-5.5,-5,-4.5,-4,-3.5,-3,-2.5,-2,-1.5,-1,-0.5,0,0.5,1,1.5,2,2.5,3],"labels":false,"tickSize":5,"title":null}}}},
{"data":{"name":"g"},"transform":[{"filter":"datum.p == 3"}],"mark":{"type":"line","color":"#8DC63F","strokeWidth":1.3,"interpolate":"monotone","clip":true},"encoding":{"x":{"field":"k","type":"quantitative"},"y":{"field":"e","type":"quantitative","axis":{"orient":"right","values":[-9,-8.5,-8,-7.5,-7,-6.5,-6,-5.5,-5,-4.5,-4,-3.5,-3,-2.5,-2,-1.5,-1,-0.5,0,0.5,1,1.5,2,2.5,3],"labels":false,"tickSize":5,"title":null}},"detail":{"field":"b"}}},
{"data":{"name":"r"},"transform":[{"filter":"datum.p == 3"}],"mark":{"type":"line","color":"#D8322D","strokeWidth":2.2,"strokeDash":[8,4],"interpolate":"monotone","clip":true},"encoding":{"x":{"field":"k","type":"quantitative"},"y":{"field":"e","type":"quantitative","axis":null},"detail":{"field":"b"}}}
]},
{"width":216.5,"height":451,"title":{"text":"KZnF₃/KAgF₃-4% strain"},"resolve":{"axis":{"y":"independent"}},
"layer":[
{"data":{"values":[{"k":1},{"k":2}]},"mark":{"type":"rule","strokeDash":[2,2],"color":"#222","strokeWidth":1},"encoding":{"x":{"field":"k","type":"quantitative","scale":{"domain":[0,3.414],"nice":false,"zero":false},"axis":{"values":[0.03,1,2,3.24],"labelExpr":"datum.value < 0.5 ? 'Γ' : datum.value < 1.5 ? 'X' : datum.value < 2.5 ? 'M' : 'Γ'","ticks":false,"labelFontSize":21,"labelPadding":2,"labelFlush":false,"title":null}}}},
{"data":{"values":[{"e":0}]},"mark":{"type":"rule","strokeDash":[2,2],"color":"#222","strokeWidth":1},"encoding":{"y":{"field":"e","type":"quantitative","scale":{"domain":[-9,3],"nice":false,"zero":false},"axis":{"orient":"left","values":[-9,-8.5,-8,-7.5,-7,-6.5,-6,-5.5,-5,-4.5,-4,-3.5,-3,-2.5,-2,-1.5,-1,-0.5,0,0.5,1,1.5,2,2.5,3],"labels":false,"tickSize":5,"title":null}}}},
{"data":{"name":"g"},"transform":[{"filter":"datum.p == 4"}],"mark":{"type":"line","color":"#8DC63F","strokeWidth":1.3,"interpolate":"monotone","clip":true},"encoding":{"x":{"field":"k","type":"quantitative"},"y":{"field":"e","type":"quantitative","axis":{"orient":"right","values":[-9,-8.5,-8,-7.5,-7,-6.5,-6,-5.5,-5,-4.5,-4,-3.5,-3,-2.5,-2,-1.5,-1,-0.5,0,0.5,1,1.5,2,2.5,3],"labels":false,"tickSize":5,"title":null}},"detail":{"field":"b"}}},
{"data":{"name":"r"},"transform":[{"filter":"datum.p == 4"}],"mark":{"type":"line","color":"#D8322D","strokeWidth":2.2,"strokeDash":[8,4],"interpolate":"monotone","clip":true},"encoding":{"x":{"field":"k","type":"quantitative"},"y":{"field":"e","type":"quantitative","axis":null},"detail":{"field":"b"}}}
]},
{"width":216.5,"height":451,"title":{"text":"La₂CuO₄","offset":1.5},"resolve":{"axis":{"y":"independent"}},
"layer":[
{"data":{"values":[{"k":1},{"k":2}]},"mark":{"type":"rule","strokeDash":[2,2],"color":"#222","strokeWidth":1},"encoding":{"x":{"field":"k","type":"quantitative","scale":{"domain":[0,3.414],"nice":false,"zero":false},"axis":{"values":[0.03,1,2,3.24],"labelExpr":"datum.value < 0.5 ? 'Γ' : datum.value < 1.5 ? 'X' : datum.value < 2.5 ? 'M' : 'Γ'","ticks":false,"labelFontSize":21,"labelPadding":2,"labelFlush":false,"title":null}}}},
{"data":{"values":[{"e":0}]},"mark":{"type":"rule","strokeDash":[2,2],"color":"#222","strokeWidth":1},"encoding":{"y":{"field":"e","type":"quantitative","scale":{"domain":[-9,3],"nice":false,"zero":false},"axis":{"orient":"left","values":[-9,-8.5,-8,-7.5,-7,-6.5,-6,-5.5,-5,-4.5,-4,-3.5,-3,-2.5,-2,-1.5,-1,-0.5,0,0.5,1,1.5,2,2.5,3],"labels":false,"tickSize":5,"title":null}}}},
{"data":{"name":"g"},"transform":[{"filter":"datum.p == 5"}],"mark":{"type":"line","color":"#8DC63F","strokeWidth":1.3,"interpolate":"monotone","clip":true},"encoding":{"x":{"field":"k","type":"quantitative"},"y":{"field":"e","type":"quantitative","axis":{"orient":"right","values":[-9,-8.5,-8,-7.5,-7,-6.5,-6,-5.5,-5,-4.5,-4,-3.5,-3,-2.5,-2,-1.5,-1,-0.5,0,0.5,1,1.5,2,2.5,3],"labelExpr":"datum.value % 1 === 0 ? (datum.value < 0 ? '-' + abs(datum.value) : '' + datum.value) : ''","labelFontSize":17,"labelPadding":2,"tickSize":5,"title":null}},"detail":{"field":"b"}}},
{"data":{"name":"r"},"transform":[{"filter":"datum.p == 5"}],"mark":{"type":"line","color":"#D8322D","strokeWidth":2.2,"strokeDash":[8,4],"interpolate":"monotone","clip":true},"encoding":{"x":{"field":"k","type":"quantitative"},"y":{"field":"e","type":"quantitative","axis":null},"detail":{"field":"b"}}}
]}
]
}
